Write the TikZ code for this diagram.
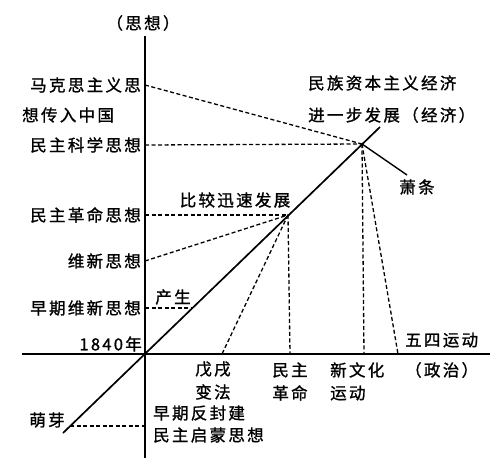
\documentclass[tikz,border=0pt]{standalone}
\usepackage{fontspec}
\usepackage{tikz}
\newfontfamily\cjk[LetterSpace=14,FakeBold=1.2]{Noto Sans CJK SC}

\begin{document}
\begin{tikzpicture}[x=10pt,y=10pt]
\tikzstyle{every node}+=[inner sep=0pt, font=\cjk\fontsize{16.5pt}{18pt}\selectfont]
\tikzstyle{axisline}=[black, line width=1.7pt]
\tikzstyle{dashline}=[black, line width=1.3pt, dash pattern=on 4pt off 2.5pt]
\useasboundingbox (0,0) rectangle (49,-45.8);
% axes and the rising line
\coordinate (O) at (14.5,-35.4);
\coordinate (ytop) at (14.5,-3.6);
\coordinate (ybot) at (14.5,-45.8);
\coordinate (xleft) at (2.2,-35.4);
\coordinate (xright) at (49,-35.4);
\coordinate (rlow) at (6.3,-43.3);
\coordinate (rhigh) at (38.0,-12.7);
\coordinate (revo) at (28.8,-21.5);
\coordinate (econ) at (36.2,-14.4);
\coordinate (slump) at (40.7,-17.5);
\draw [axisline] (ytop) -- (ybot);
\draw [axisline] (xleft) -- (xright);
\draw [axisline] (rlow) -- (rhigh);
\draw [black, line width=1.4pt] (econ) -- (slump);
% points on the thought axis
\coordinate (t1) at (14.5,-8.5);
\coordinate (t2) at (14.5,-14.5);
\coordinate (t3) at (14.5,-21.5);
\coordinate (t4) at (14.5,-26.1);
\coordinate (t5) at (14.5,-30.8);
\coordinate (t6) at (14.5,-42.6);
\coordinate (birth) at (19.3,-30.8);
\coordinate (sprout) at (7.0,-42.6);
% points on the politics axis
\coordinate (p1) at (22.2,-35.4);
\coordinate (p2) at (29.0,-35.4);
\coordinate (p3) at (36.4,-35.4);
\coordinate (p4) at (39.8,-35.4);
\draw [dashline] (t1) -- (econ);
\draw [dashline] (t2) -- (econ);
\draw [dashline] (t3) -- (revo);
\draw [dashline] (t4) -- (revo);
\draw [dashline] (t5) -- (birth);
\draw [dashline] (sprout) -- (t6);
\draw [dashline] (revo) -- (p1);
\draw [dashline] (revo) -- (p2);
\draw [dashline] (econ) -- (p3);
\draw [dashline] (econ) -- (p4);
% labels
\node (think) at (14.3,-2.3) {（思想）};
\node [anchor=east] (marx) at (14.1,-8.5) {马克思主义思};
\node [anchor=west] (marxb) at (2.2,-11.5) {想传入中国};
\node [anchor=east] (sci) at (14.1,-14.5) {民主科学思想};
\node [anchor=east] (rev) at (14.1,-21.5) {民主革命思想};
\node [anchor=east] (reform) at (14.1,-26.1) {维新思想};
\node [anchor=east] (early) at (14.1,-30.8) {早期维新思想};
\node [anchor=east] (year) at (14.2,-34.4) {1840年};
\node (born) at (17.3,-29.7) {产生};
\node (bud) at (4.7,-42.0) {萌芽};
\node (fast) at (23.5,-20.0) {比较迅速发展};
\node [anchor=west] (nat) at (30.8,-8.3) {民族资本主义经济};
\node [anchor=west] (natb) at (30.8,-11.5) {进一步发展（经济）};
\node (down) at (41.7,-18.7) {萧条};
\node (wx) at (21.3,-36.9) {戊戌};
\node (wxb) at (21.3,-39.2) {变法};
\node [anchor=west] (feud) at (15.3,-41.3) {早期反封建};
\node [anchor=west] (feudb) at (15.3,-43.5) {民主启蒙思想};
\node (dem) at (29.0,-37.0) {民主};
\node (demb) at (29.0,-39.3) {革命};
\node [anchor=west] (cult) at (33.0,-37.0) {新文化};
\node [anchor=west] (cultb) at (33.0,-39.3) {运动};
\node [anchor=west] (may) at (40.5,-34.0) {五四运动};
\node [anchor=west] (pol) at (40.5,-37.0) {（政治）};
\end{tikzpicture}
\end{document}
